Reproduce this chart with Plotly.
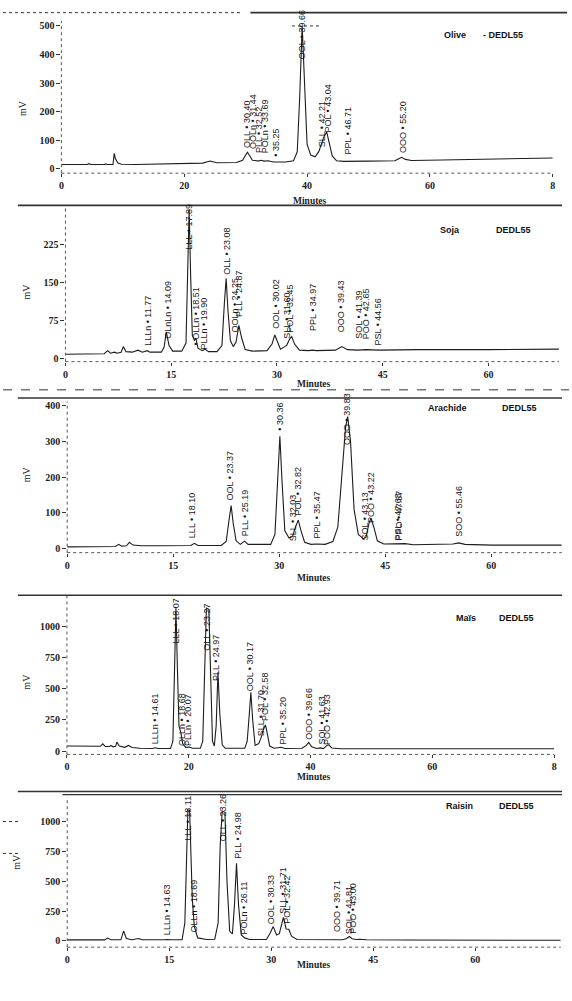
import plotly.graph_objects as go

W, H = 572, 1001

# ---------------- data (retention time in minutes, signal in mV) ----------------
olive_t = [0, 4.2, 4.5, 4.8, 7.0, 7.2, 7.5, 8.4, 8.6, 8.8, 9.2, 9.8, 12, 16, 20, 23.0, 24.2, 25.3,
           28.5, 29.5, 30.0, 30.3, 30.7, 31.1, 31.6, 32.0, 32.5, 33.0, 33.7, 34.5, 36.5, 37.8, 38.4,
           38.8, 39.2, 39.6, 40.0, 40.6, 41.3, 41.9, 42.3, 42.8, 43.2, 43.6, 44.1, 44.8, 46, 50, 54.3,
           55.0, 55.4, 56.0, 57, 62, 70, 80]
olive_mv = [15, 15, 18, 15, 15, 17, 15, 15, 54, 35, 20, 16, 15, 17, 19, 20, 27, 21,
            22, 30, 48, 58, 44, 30, 29, 27, 30, 27, 28, 24, 24, 28, 60,
            250, 500, 260, 85, 48, 42, 60, 88, 115, 128, 95, 45, 28, 26, 27, 28,
            36, 40, 33, 29, 31, 34, 38]
olive_labels = ["OLL • 30.40", "OOLn • 31.44", "PLL • 32.52", "POLn • 33.69", "• 35.25",
                "OOL • 39.66", "SLL • 42.21", "POL • 43.04", "PPL • 46.71", "OOO • 55.20"]
olive_lab_t = [30.2, 31.2, 32.1, 33.1, 35.0, 39.2, 42.4, 43.4, 46.7, 55.5]
olive_lab_mv = [71, 64, 50, 50, 40, 378, 71, 123, 46, 53]

soja_t = [0, 5.5, 6.0, 6.4, 7.0, 7.3, 7.9, 8.2, 8.6, 9.5, 10.3, 10.9, 11.6, 12.0, 13.6, 14.0, 14.3,
          14.7, 15.2, 16.5, 17.1, 17.35, 17.55, 17.75, 18.0, 18.3, 18.5, 18.8, 19.4, 19.8, 20.3,
          21.5, 22.2, 22.55, 22.8, 23.05, 23.4, 23.8, 24.2, 24.6, 25.0, 25.5, 26.5, 28.6, 29.3,
          29.7, 30.1, 30.5, 31.0, 31.4, 31.8, 32.1, 32.5, 33.2, 34.5, 35.0, 35.6, 38.3, 39.2,
          40.0, 41.5, 42.6, 44.5, 50, 60, 70]
soja_mv = [8, 9, 15, 10, 12, 10, 12, 23, 13, 12, 16, 12, 15, 12, 12, 22, 52,
           25, 14, 14, 30, 180, 295, 170, 45, 35, 40, 20, 15, 18, 13,
           13, 25, 110, 158, 95, 35, 23, 32, 65, 40, 17, 14, 15, 28,
           46, 30, 18, 22, 26, 38, 43, 28, 16, 15, 16, 15, 16, 23,
           17, 16, 17, 16, 17, 17, 18]
soja_labels = ["LLLn • 11.77", "OLnLn • 14.09", "LLL • 17.89", "• OLLn • 18.51", "PLLn • 19.90",
               "OLL • 23.08", "OOLn • 24.25", "PLL • 24.87", "OOL • 30.02", "SLL • 31.60",
               "POL • 32.45", "PPL • 34.97", "OOO • 39.43", "SOL • 41.39", "POO • 42.65",
               "PSL • 44.56"]
soja_lab_t = [11.6, 14.5, 17.5, 18.5, 19.7, 22.9, 24.0, 24.7, 29.9, 31.4, 31.9, 35.2, 39.2,
              41.6, 42.6, 44.4]
soja_lab_mv = [23, 36, 214, 23, 16, 164, 49, 79, 56, 36, 49, 52, 49, 36, 36, 23]

arachide_t = [0, 6.8, 7.3, 7.7, 8.4, 8.8, 9.3, 10.5, 13, 15, 17.5, 18.0, 18.5, 21.8, 22.5, 22.9,
              23.2, 23.5, 23.9, 24.5, 25.1, 25.6, 28.8, 29.4, 29.8, 30.1, 30.4, 30.8, 31.4, 31.9,
              32.3, 32.7, 33.1, 33.6, 34.5, 35.3, 36.5, 37.6, 38.3, 38.9, 39.4, 39.7, 40.1, 40.6,
              41.2, 41.9, 42.3, 42.7, 43.0, 43.4, 43.9, 44.8, 47.0, 47.8, 49, 53, 54.6, 55.4,
              56.3, 60, 70]
arachide_mv = [5, 6, 12, 7, 8, 18, 10, 8, 8, 8, 9, 15, 9, 9, 20, 80,
               121, 70, 22, 12, 21, 12, 12, 40, 200, 315, 190, 50, 30, 35,
               60, 80, 50, 18, 12, 13, 12, 20, 60, 220, 340, 370, 300, 110,
               40, 28, 32, 70, 85, 60, 22, 13, 13, 14, 11, 11, 13, 16,
               12, 10, 10]
arachide_labels = ["LLL • 18.10", "OOL • 23.37", "PLL • 25.19", "• 30.36", "SLL • 32.03",
                   "POL • 32.82", "PPL • 35.47", "OOO • 39.83", "SOL • 43.13", "POO • 43.22",
                   "PSL • 47.63", "PPO • 47.87", "SOO • 55.46"]
arachide_lab_t = [17.7, 23.0, 25.1, 30.0, 31.9, 32.7, 35.3, 39.7, 42.2, 43.0, 46.8, 47.0, 55.4]
arachide_lab_mv = [26, 133, 31, 328, 17, 91, 26, 287, 21, 68, 21, 21, 31]

mais_t = [0, 3, 5.5, 5.9, 6.3, 7.0, 7.2, 7.6, 8.0, 8.2, 8.6, 9.5, 10.1, 10.7, 12, 14.0, 14.5, 15,
          17.0, 17.4, 17.65, 17.9, 18.15, 18.4, 18.7, 19.0, 19.5, 20.1, 20.6, 21.9, 22.3, 22.6,
          22.9, 23.3, 23.6, 23.9, 24.2, 24.5, 24.8, 25.1, 25.5, 26.0, 29.2, 29.6, 29.95, 30.2,
          30.5, 30.9, 31.5, 31.9, 32.3, 32.6, 32.9, 33.3, 34.0, 35.2, 35.8, 38.6, 39.3, 39.7,
          40.2, 41.0, 41.6, 42.1, 42.7, 43.0, 43.5, 45, 50, 60, 80]
mais_mv = [40, 38, 38, 58, 36, 36, 45, 34, 38, 72, 40, 30, 45, 28, 22, 20, 26, 20,
           20, 80, 600, 1150, 650, 200, 150, 60, 30, 32, 22, 22, 80, 700,
           1150, 1140, 500, 80, 40, 200, 634, 300, 50, 22, 22, 80, 300, 473,
           250, 45, 60, 110, 180, 210, 140, 40, 22, 30, 20, 22, 45, 70,
           35, 20, 25, 20, 45, 50, 25, 18, 18, 18, 18]
mais_labels = ["LLLn • 14.61", "LLL • 18.07", "OLLn • 18.68", "PLLn • 20.07", "OLL • 23.27",
               "PLL • 24.97", "OOL • 30.17", "SLL • 31.70", "POL • 32.58", "PPL • 35.20",
               "OOO • 39.66", "SOL • 41.63", "POO • 42.93"]
mais_lab_t = [14.5, 17.9, 19.0, 19.9, 23.0, 24.6, 30.0, 31.9, 32.5, 35.4, 39.8, 41.9, 42.7]
mais_lab_mv = [45, 860, 34, 34, 794, 553, 473, 112, 233, 45, 85, 45, 45]

raisin_t = [0, 5.5, 5.95, 6.4, 7.9, 8.3, 8.7, 9.5, 10.5, 11.0, 14.3, 14.7, 15.2, 16.9, 17.3, 17.55,
            17.75, 18.0, 18.2, 18.4, 18.7, 19.2, 20.5, 21.7, 22.2, 22.5, 22.8, 23.2, 23.5, 23.9,
            24.3, 24.6, 24.9, 25.2, 25.6, 26.1, 26.8, 29.3, 29.8, 30.3, 30.8, 31.2, 31.8, 32.2,
            32.6, 33.0, 33.8, 37, 39.7, 40.5, 41.1, 41.5, 41.9, 42.5, 43.0, 44, 50, 60, 72.6]
raisin_mv = [8, 8, 23, 9, 9, 84, 20, 10, 20, 10, 9, 12, 9, 10, 150, 800,
             1100, 1100, 700, 350, 120, 25, 12, 14, 150, 800, 1090, 1080, 500, 80,
             60, 300, 651, 300, 50, 25, 12, 12, 60, 120, 50, 60, 198, 100,
             98, 40, 12, 10, 12, 9, 20, 37, 18, 12, 14, 9, 7, 6, 5]
raisin_labels = ["LLLn • 14.63", "LLL • 18.11", "OLLn • 18.69", "OLL • 23.26", "PLL • 24.98",
                 "POLn • 26.11", "OOL • 30.33", "SLL • 31.71", "POL • 32.42", "OOO • 39.71",
                 "SOL • 41.81", "POO • 43.00"]
raisin_lab_t = [14.7, 17.8, 18.6, 22.9, 25.2, 26.0, 30.1, 31.7, 32.3, 39.65, 41.5, 42.1]
raisin_lab_mv = [37, 832, 64, 832, 678, 50, 134, 218, 134, 64, 50, 50]

sample_names = ["Olive", "Soja", "Arachide", "Maïs", "Raisin"]
detector = ["- DEDL55", "DEDL55", "DEDL55", "DEDL55", "DEDL55"]

x_ticks = [[0, 20, 40, 60, 80], [0, 15, 30, 45, 60], [0, 15, 30, 45, 60],
           [0, 20, 40, 60, 80], [0, 15, 30, 45, 60]]
x_ticktext = [["0", "20", "40", "60", "8"], ["0", "15", "30", "45", "60"],
              ["0", "15", "30", "45", "60"], ["0", "20", "40", "60", "8"],
              ["0", "15", "30", "45", "60"]]
y_ticks = [[0, 100, 200, 300, 400, 500], [0, 75, 150, 225], [0, 100, 200, 300, 400],
           [0, 250, 500, 750, 1000], [0, 250, 500, 750, 1000]]

# ---------------- layout geometry (pixels) ----------------
series = [
    (olive_t, olive_mv, olive_labels, olive_lab_t, olive_lab_mv),
    (soja_t, soja_mv, soja_labels, soja_lab_t, soja_lab_mv),
    (arachide_t, arachide_mv, arachide_labels, arachide_lab_t, arachide_lab_mv),
    (mais_t, mais_mv, mais_labels, mais_lab_t, mais_lab_mv),
    (raisin_t, raisin_mv, raisin_labels, raisin_lab_t, raisin_lab_mv),
]
geo = [  # x_left, x_right, y_bottom, y_top (px), x range, y range
    dict(xl=59.0, xr=555.6, yb=172.7, yt=20, xrange=[0, 80], yrange=[-15.3, 517]),
    dict(xl=63.1, xr=561.8, yb=361.7, yt=206.7, xrange=[0, 70], yrange=[-6.7, 299.2]),
    dict(xl=64.9, xr=564.7, yb=553.3, yt=401.7, xrange=[0, 70], yrange=[-11.2, 412.3]),
    dict(xl=64.6, xr=557.0, yb=755.7, yt=596.7, xrange=[0, 80], yrange=[-27.3, 1247.8]),
    dict(xl=64.9, xr=563.7, yb=949.0, yt=798.3, xrange=[0, 72.6], yrange=[-52.8, 1209.4]),
]
title_pos = [(470, 26.7, 528, 26.7), (464, 222.7, 536, 222.7), (471, 408.3, 542, 408.3),
             (480, 619.3, 539, 619.3), (477, 814, 539, 814)]
minutes_pos = [(310, 193.5), (314, 384), (314, 578.5), (314, 785), (314, 974)]
mv_pos = [(12, 97), (16.4, 281.7), (16.4, 475), (16.4, 693), (6, 873)]


def px(x):
    return x / W


def py(y):
    return 1 - y / H


fig = go.Figure()
annotations = []
shapes = []
layout = {}

tickfont = dict(family="Liberation Serif, DejaVu Serif, serif", size=10, color="#222", weight=700)
labfont = dict(family="Liberation Sans Narrow, Liberation Sans, Arial, sans-serif", size=9, color="#151515")

for i, ((t, mv, labs, lt, lmv), g) in enumerate(zip(series, geo)):
    n = "" if i == 0 else str(i + 1)
    xa, ya = "x" + n, "y" + n
    fig.add_trace(go.Scatter(x=t, y=mv, mode="lines", line=dict(color="#1c1c1c", width=1.1),
                             xaxis=xa, yaxis=ya, showlegend=False, hoverinfo="skip"))
    layout["xaxis" + n] = dict(domain=[px(g["xl"]), px(g["xr"])], range=g["xrange"], anchor=ya,
                               tickvals=x_ticks[i], ticktext=x_ticktext[i], ticks="outside",
                               ticklen=3, tickcolor="#333", showgrid=False, zeroline=False,
                               showline=False, tickfont=tickfont, fixedrange=True)
    layout["yaxis" + n] = dict(domain=[py(g["yb"]), py(g["yt"])], range=g["yrange"], anchor=xa,
                               tickvals=y_ticks[i], ticks="outside", ticklen=4, tickcolor="#333",
                               showgrid=False, zeroline=False, showline=False, tickfont=tickfont,
                               fixedrange=True)
    # dotted axis lines
    shapes.append(dict(type="line", xref=xa + " domain", yref=ya + " domain", x0=0, x1=1, y0=0, y1=0,
                       line=dict(color="#555", width=1, dash="dot")))
    shapes.append(dict(type="line", xref=xa + " domain", yref=ya + " domain", x0=0, x1=0, y0=0, y1=1,
                       line=dict(color="#555", width=1, dash="dot")))
    # peak labels
    for txt, tx, ty in zip(labs, lt, lmv):
        annotations.append(dict(x=tx, y=ty, xref=xa, yref=ya, text=txt, textangle=-90,
                                showarrow=False, xanchor="center", yanchor="bottom",
                                font=labfont, borderpad=0))
    # sample title
    sx, sy, dx, dy = title_pos[i]
    annotations.append(dict(x=px(sx), y=py(sy), xref="paper", yref="paper", text=sample_names[i],
                            showarrow=False, font=dict(family="Liberation Sans, Arial", size=9,
                                                       color="#111", weight=700)))
    annotations.append(dict(x=px(dx), y=py(dy), xref="paper", yref="paper", text=detector[i],
                            showarrow=False, font=dict(family="Liberation Sans, Arial", size=9,
                                                       color="#111", weight=700)))
    mx, my = minutes_pos[i]
    annotations.append(dict(x=px(mx), y=py(my), xref="paper", yref="paper", text="Minutes",
                            showarrow=False, font=dict(family="Liberation Serif, serif", size=9.5,
                                                       color="#222", weight=700)))
    vx, vy = mv_pos[i]
    annotations.append(dict(x=px(vx), y=py(vy), xref="paper", yref="paper", text="mV",
                            textangle=-90, showarrow=False,
                            font=dict(family="Liberation Serif, serif", size=10, color="#222")))

# scan separator lines
sep = [(0, 240, 11.7, "dot", 1), (250, 570, 11.7, "solid", 1.6), (15, 565, 205, "solid", 1.6),
       (0, 572, 390, "dash", 1), (15, 565, 398.3, "solid", 1.5), (15, 565, 596, "solid", 1.5),
       (15, 565, 793, "solid", 1.5), (60, 565, 796, "solid", 1.2),
       (0, 18, 823, "dot", 1), (0, 18, 855, "dot", 1), (292, 321, 25, "dot", 1)]
for x0, x1, y, dash, wd in sep:
    shapes.append(dict(type="line", xref="paper", yref="paper", x0=px(x0), x1=px(x1), y0=py(y),
                       y1=py(y), line=dict(color="#333", width=wd, dash=dash)))

fig.update_layout(width=W, height=H, margin=dict(l=0, r=0, t=0, b=0),
                  paper_bgcolor="white", plot_bgcolor="white",
                  annotations=annotations, shapes=shapes, **layout)
fig.write_html("out.html")
